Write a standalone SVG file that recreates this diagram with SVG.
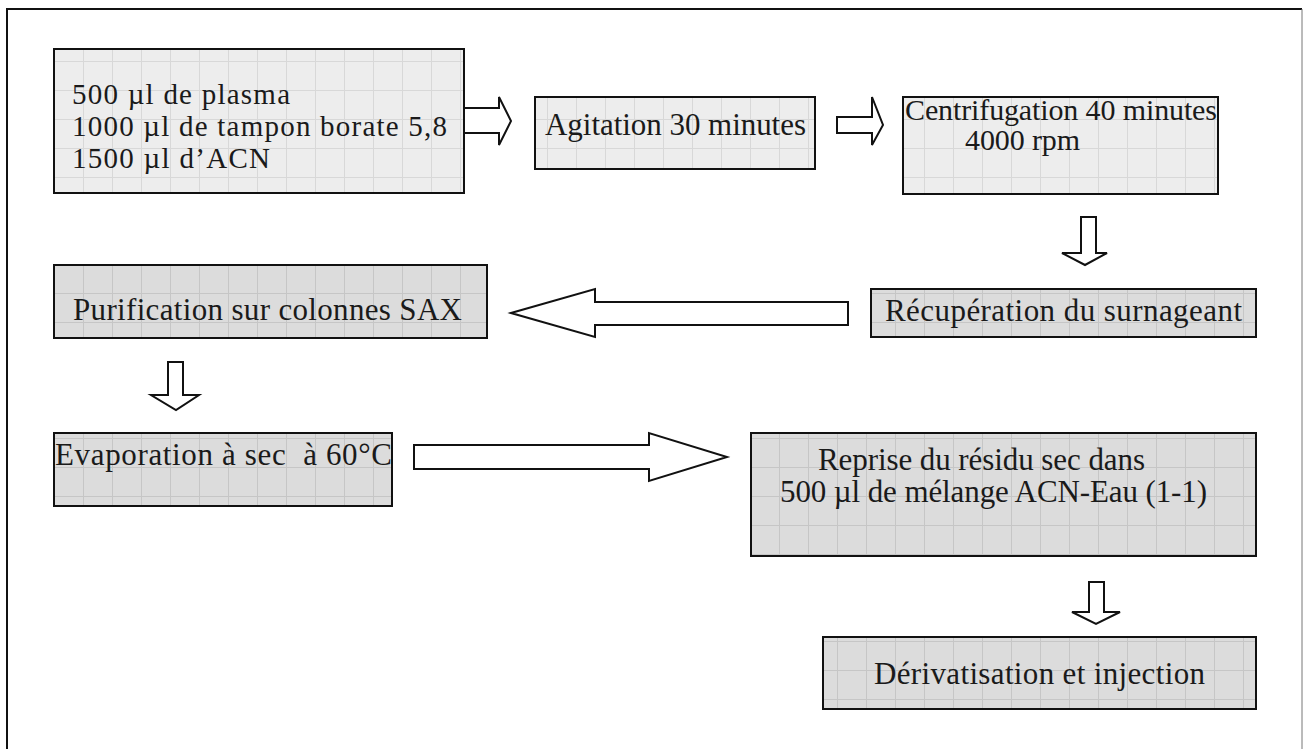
<svg xmlns="http://www.w3.org/2000/svg" width="1303" height="749" viewBox="0 0 1303 749">
  <style>
    .frame { fill: none; stroke: #111; stroke-width: 2; }
    .box { stroke: #111; stroke-width: 2; }
    .light { fill: url(#gridLight); }
    .dark { fill: url(#gridDark); }
    .arrow { fill: #fff; stroke: #111; stroke-width: 2; stroke-linejoin: miter; }
    text { font-family: "Liberation Serif", "Times New Roman", serif; font-size: 31px; fill: #1a1a1a; }
    .s29 { font-size: 29px; }
    .s30 { font-size: 30px; }
  </style>
  <defs>
    <!-- fine grid paper used as box fill -->
    <pattern id="gridLight" patternUnits="userSpaceOnUse" x="25" y="3" width="29" height="29">
      <rect width="29" height="29" fill="#ededed"/>
      <path d="M0 0.5H29M0.5 0V29" stroke="#d8d8d8" stroke-width="1"/>
    </pattern>
    <pattern id="gridDark" patternUnits="userSpaceOnUse" x="25" y="3" width="29" height="29">
      <rect width="29" height="29" fill="#dcdcdc"/>
      <path d="M0 0.5H29M0.5 0V29" stroke="#c6c6c6" stroke-width="1"/>
    </pattern>
  </defs>

  <!-- page frame -->
  <path class="frame" d="M7 760V9H1302"/>
  <path d="M1302 9V760" stroke="#777" stroke-width="1" fill="none"/>

  <g id="connectors">
    <!-- sample -> agitation -->
    <path class="arrow" d="M464 108H499V97L511 121L499 145V133H464Z"/>
    <!-- agitation -> centrifugation -->
    <path class="arrow" d="M837 117H872V97L883 125L872 145V133H837Z"/>
    <!-- centrifugation -> supernatant -->
    <path class="arrow" d="M1081 217H1096V253H1107L1085 265L1062 253H1081Z"/>
    <!-- supernatant -> SAX purification -->
    <path class="arrow" d="M848 302V325H595V337L511 313L595 289V302Z"/>
    <!-- SAX -> evaporation -->
    <path class="arrow" d="M168 362H183V395H199L176 410L151 395H168Z"/>
    <!-- evaporation -> reprise -->
    <path class="arrow" d="M414 445H649V433L727 457L649 481V469H414Z"/>
    <!-- reprise -> derivatisation -->
    <path class="arrow" d="M1089 582H1104V612H1120L1096 624L1072 612H1089Z"/>
  </g>

  <g id="node-sample">
    <rect class="box light" x="54" y="49" width="410" height="144"/>
    <text class="s29" x="72" y="104" textLength="218" lengthAdjust="spacing">500 µl de plasma</text>
    <text class="s29" x="72" y="136" textLength="375" lengthAdjust="spacing">1000 µl de tampon borate 5,8</text>
    <text class="s29" x="72" y="168" textLength="198" lengthAdjust="spacing">1500 µl d’ACN</text>
  </g>

  <g id="node-agitation">
    <rect class="box light" x="535" y="97" width="280" height="72"/>
    <text x="545" y="135" textLength="261" lengthAdjust="spacing">Agitation 30 minutes</text>
  </g>

  <g id="node-centrifugation">
    <rect class="box light" x="903" y="97" width="315" height="97"/>
    <text class="s30" x="905" y="120" textLength="312" lengthAdjust="spacing">Centrifugation 40 minutes</text>
    <text class="s30" x="965" y="150" textLength="115" lengthAdjust="spacing">4000 rpm</text>
  </g>

  <g id="node-supernatant">
    <rect class="box dark" x="871" y="289" width="385" height="48"/>
    <text x="885" y="321" textLength="357" lengthAdjust="spacing">Récupération du surnageant</text>
  </g>

  <g id="node-purification">
    <rect class="box dark" x="54" y="265" width="433" height="73"/>
    <text x="73" y="320" textLength="389" lengthAdjust="spacing">Purification sur colonnes SAX</text>
  </g>

  <g id="node-evaporation">
    <rect class="box dark" x="54" y="433" width="338" height="73"/>
    <text x="55" y="465" textLength="337" lengthAdjust="spacing" xml:space="preserve">Evaporation à sec  à 60°C</text>
  </g>

  <g id="node-reprise">
    <rect class="box dark" x="751" y="433" width="505" height="123"/>
    <text x="818" y="470" textLength="327" lengthAdjust="spacing">Reprise du résidu sec dans</text>
    <text x="780" y="502" textLength="427" lengthAdjust="spacing">500 µl de mélange ACN-Eau (1-1)</text>
  </g>

  <g id="node-derivatisation">
    <rect class="box dark" x="823" y="637" width="433" height="72"/>
    <text x="874" y="684" textLength="331" lengthAdjust="spacing">Dérivatisation et injection</text>
  </g>
</svg>
